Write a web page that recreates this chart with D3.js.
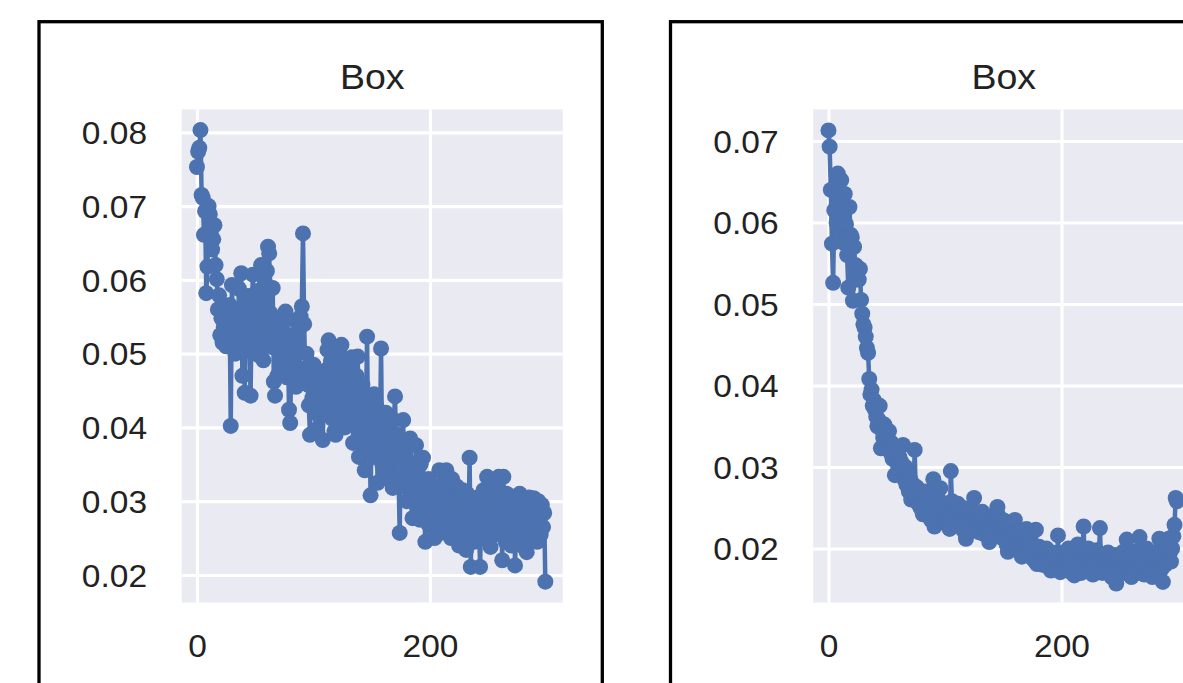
<!DOCTYPE html>
<html>
<head>
<meta charset="utf-8">
<script src="https://cdn.jsdelivr.net/npm/d3@7"></script>
<style>
  html, body { margin: 0; padding: 0; background: #ffffff; }
  svg { display: block; }
  text { font-family: "Liberation Sans", Arial, Helvetica, sans-serif; fill: #222222; }
</style>
</head>
<body>
<svg id="chart" width="1183" height="683"></svg>
<script>
// ---------------- DATA ----------------
const panelTitles = ["Box", "Box"];
const xTicks = [0, 200];
const yTicksLeft = [0.02, 0.03, 0.04, 0.05, 0.06, 0.07, 0.08];
const yTicksRight = [0.02, 0.03, 0.04, 0.05, 0.06, 0.07];

// left panel loss per epoch (epochs 0..299)
const lossLeft = [
  0.0753, 0.0774, 0.0779, 0.0803, 0.0715, 0.0711, 0.0661, 0.0693, 0.0582, 0.0618,
  0.0700, 0.0689, 0.0662, 0.0641, 0.0655, 0.0674, 0.0620, 0.0601, 0.0560, 0.0579,
  0.0525, 0.0548, 0.0515, 0.0536, 0.0556, 0.0510, 0.0542, 0.0528, 0.0566, 0.0402,
  0.0593, 0.0522, 0.0545, 0.0500, 0.0556, 0.0517, 0.0588, 0.0532, 0.0609, 0.0470,
  0.0540, 0.0447, 0.0563, 0.0505, 0.0578, 0.0520, 0.0443, 0.0550, 0.0607, 0.0512,
  0.0565, 0.0530, 0.0585, 0.0498, 0.0560, 0.0620, 0.0540, 0.0491, 0.0600, 0.0527,
  0.0612, 0.0645, 0.0636, 0.0555, 0.0509, 0.0589, 0.0462, 0.0443, 0.0530, 0.0470,
  0.0521, 0.0548, 0.0485, 0.0540, 0.0500, 0.0528, 0.0557, 0.0468, 0.0520, 0.0424,
  0.0406, 0.0490, 0.0525, 0.0470, 0.0545, 0.0455, 0.0508, 0.0530, 0.0480, 0.0550,
  0.0564, 0.0663, 0.0540, 0.0470, 0.0500, 0.0458, 0.0430, 0.0390, 0.0465, 0.0440,
  0.0485, 0.0425, 0.0460, 0.0398, 0.0445, 0.0415, 0.0470, 0.0430, 0.0383, 0.0450,
  0.0420, 0.0478, 0.0505, 0.0518, 0.0440, 0.0490, 0.0412, 0.0462, 0.0395, 0.0390,
  0.0435, 0.0475, 0.0410, 0.0498, 0.0512, 0.0430, 0.0465, 0.0400, 0.0450, 0.0420,
  0.0485, 0.0415, 0.0455, 0.0495, 0.0379, 0.0440, 0.0410, 0.0470, 0.0496, 0.0360,
  0.0430, 0.0395, 0.0458, 0.0380, 0.0342, 0.0420, 0.0523, 0.0370, 0.0410, 0.0308,
  0.0400, 0.0360, 0.0445, 0.0385, 0.0430, 0.0325, 0.0410, 0.0380, 0.0507, 0.0350,
  0.0395, 0.0340, 0.0420, 0.0370, 0.0400, 0.0330, 0.0385, 0.0355, 0.0318, 0.0410,
  0.0442, 0.0360, 0.0390, 0.0335, 0.0257, 0.0375, 0.0345, 0.0410, 0.0320, 0.0365,
  0.0300, 0.0355, 0.0330, 0.0385, 0.0310, 0.0277, 0.0340, 0.0300, 0.0376, 0.0290,
  0.0320, 0.0275, 0.0350, 0.0300, 0.0359, 0.0285, 0.0245, 0.0310, 0.0270, 0.0330,
  0.0290, 0.0315, 0.0265, 0.0300, 0.0250, 0.0285, 0.0320, 0.0275, 0.0342, 0.0257,
  0.0300, 0.0270, 0.0325, 0.0290, 0.0342, 0.0265, 0.0310, 0.0280, 0.0250, 0.0330,
  0.0275, 0.0305, 0.0260, 0.0320, 0.0285, 0.0240, 0.0300, 0.0270, 0.0315, 0.0255,
  0.0290, 0.0234, 0.0310, 0.0265, 0.0359, 0.0211, 0.0280, 0.0300, 0.0245, 0.0290,
  0.0260, 0.0305, 0.0270, 0.0211, 0.0285, 0.0250, 0.0315, 0.0275, 0.0295, 0.0333,
  0.0260, 0.0310, 0.0238, 0.0290, 0.0270, 0.0320, 0.0255, 0.0300, 0.0280, 0.0333,
  0.0265, 0.0305, 0.0220, 0.0333, 0.0275, 0.0245, 0.0310, 0.0290, 0.0260, 0.0300,
  0.0240, 0.0285, 0.0305, 0.0213, 0.0270, 0.0295, 0.0255, 0.0310, 0.0280, 0.0240,
  0.0300, 0.0265, 0.0290, 0.0231, 0.0275, 0.0305, 0.0250, 0.0295, 0.0270, 0.0304,
  0.0260, 0.0290, 0.0245, 0.0300, 0.0275, 0.0255, 0.0295, 0.0265, 0.0284, 0.0191
];

// right panel loss per epoch (epochs 0..299)
const lossRight = [
  0.0713, 0.0693, 0.0640, 0.0574, 0.0526, 0.0615, 0.0645, 0.0600, 0.0660, 0.0628,
  0.0590, 0.0652, 0.0610, 0.0575, 0.0635, 0.0598, 0.0560, 0.0520, 0.0619, 0.0585,
  0.0582, 0.0504, 0.0570, 0.0548, 0.0530, 0.0545, 0.0530, 0.0543, 0.0505, 0.0488,
  0.0475, 0.0471, 0.0460, 0.0446, 0.0440, 0.0408, 0.0389, 0.0395, 0.0375, 0.0382,
  0.0370, 0.0362, 0.0350, 0.0358, 0.0375, 0.0323, 0.0345, 0.0336, 0.0352, 0.0330,
  0.0340, 0.0325, 0.0344, 0.0318, 0.0330, 0.0310, 0.0322, 0.0290, 0.0315, 0.0305,
  0.0298, 0.0312, 0.0295, 0.0305, 0.0327, 0.0285, 0.0300, 0.0278, 0.0292, 0.0270,
  0.0286, 0.0260, 0.0280, 0.0268, 0.0321, 0.0262, 0.0275, 0.0255, 0.0270, 0.0250,
  0.0265, 0.0242, 0.0258, 0.0270, 0.0248, 0.0262, 0.0240, 0.0255, 0.0235, 0.0260,
  0.0285, 0.0227, 0.0250, 0.0240, 0.0262, 0.0245, 0.0274, 0.0238, 0.0252, 0.0232,
  0.0248, 0.0236, 0.0255, 0.0240, 0.0224, 0.0295, 0.0258, 0.0245, 0.0230, 0.0250,
  0.0238, 0.0255, 0.0228, 0.0245, 0.0235, 0.0250, 0.0222, 0.0240, 0.0212, 0.0236,
  0.0248, 0.0230, 0.0242, 0.0225, 0.0238, 0.0262, 0.0245, 0.0232, 0.0240, 0.0220,
  0.0236, 0.0228, 0.0245, 0.0218, 0.0232, 0.0225, 0.0240, 0.0215, 0.0208, 0.0230,
  0.0222, 0.0238, 0.0226, 0.0235, 0.0220, 0.0251, 0.0240, 0.0230, 0.0218, 0.0228,
  0.0212, 0.0234, 0.0222, 0.0205, 0.0196, 0.0225, 0.0215, 0.0228, 0.0210, 0.0220,
  0.0235, 0.0208, 0.0218, 0.0200, 0.0212, 0.0205, 0.0190, 0.0215, 0.0202, 0.0210,
  0.0224, 0.0198, 0.0208, 0.0192, 0.0205, 0.0188, 0.0200, 0.0185, 0.0223, 0.0181,
  0.0195, 0.0202, 0.0188, 0.0198, 0.0180, 0.0192, 0.0185, 0.0200, 0.0178, 0.0190,
  0.0182, 0.0173, 0.0195, 0.0185, 0.0178, 0.0190, 0.0180, 0.0216, 0.0175, 0.0171,
  0.0188, 0.0180, 0.0195, 0.0176, 0.0190, 0.0182, 0.0200, 0.0172, 0.0185, 0.0195,
  0.0178, 0.0167, 0.0190, 0.0182, 0.0205, 0.0175, 0.0188, 0.0170, 0.0198, 0.0227,
  0.0180, 0.0192, 0.0172, 0.0200, 0.0185, 0.0176, 0.0195, 0.0168, 0.0188, 0.0180,
  0.0198, 0.0175, 0.0190, 0.0225, 0.0182, 0.0170, 0.0192, 0.0178, 0.0186, 0.0172,
  0.0195, 0.0180, 0.0188, 0.0165, 0.0185, 0.0175, 0.0192, 0.0157, 0.0183, 0.0178,
  0.0190, 0.0170, 0.0185, 0.0196, 0.0175, 0.0188, 0.0211, 0.0180, 0.0168, 0.0190,
  0.0165, 0.0182, 0.0195, 0.0175, 0.0188, 0.0170, 0.0198, 0.0214, 0.0180, 0.0176,
  0.0190, 0.0168, 0.0185, 0.0200, 0.0175, 0.0192, 0.0172, 0.0188, 0.0165, 0.0182,
  0.0195, 0.0176, 0.0190, 0.0170, 0.0212, 0.0185, 0.0175, 0.0159, 0.0190, 0.0180,
  0.0200, 0.0185, 0.0212, 0.0195, 0.0184, 0.0200, 0.0215, 0.0229, 0.0262, 0.0258
];

// ---------------- LAYOUT ----------------
const svg = d3.select("#chart");
const COLOR = "#4C72B0";
const BG = "#EAEAF2";
const FONT = '"Liberation Sans", Arial, Helvetica, sans-serif';

const panels = [
  { title: panelTitles[0], data: lossLeft,  yTicks: yTicksLeft,  yDomain: [0.016273, 0.08309], dx: 0 },
  { title: panelTitles[1], data: lossRight, yTicks: yTicksRight, yDomain: [0.013374, 0.073865], dx: 631.5 }
];

const plot = { x0: 181.7, x1: 562.7, y0: 109.5, y1: 602.5 };
const xDomain = [-13.1, 313.9];

// widen glyphs slightly to match the reference lettering
function stretch(sel, k) {
  sel.each(function () {
    const w = this.getComputedTextLength();
    d3.select(this).attr("textLength", w * k).attr("lengthAdjust", "spacingAndGlyphs");
  });
}

panels.forEach(p => {
  const g = svg.append("g").attr("transform", `translate(${p.dx},0)`);

  // outer black frame (bottom runs off the image)
  g.append("rect")
    .attr("x", 39).attr("y", 21.7)
    .attr("width", 563.3).attr("height", 720)
    .attr("fill", "none").attr("stroke", "#000").attr("stroke-width", 3.3);

  const x = d3.scaleLinear().domain(xDomain).range([plot.x0, plot.x1]);
  const y = d3.scaleLinear().domain(p.yDomain).range([plot.y1, plot.y0]);
  const W = plot.x1 - plot.x0, H = plot.y1 - plot.y0;

  g.append("rect")
    .attr("x", plot.x0).attr("y", plot.y0)
    .attr("width", W).attr("height", H)
    .attr("fill", BG);

  // y axis + horizontal grid
  const ya = g.append("g").attr("transform", `translate(${plot.x0},0)`)
    .call(d3.axisLeft(y).tickValues(p.yTicks).tickFormat(d3.format(".2f"))
      .tickSize(-W).tickPadding(34.7));
  ya.select(".domain").remove();
  ya.selectAll(".tick line").attr("stroke", "#fff").attr("stroke-width", 3.2);
  ya.selectAll(".tick text").attr("font-size", 31).attr("dy", "0.36em")
    .attr("fill", "#222").style("font-family", FONT).call(stretch, 1.08);

  // x axis + vertical grid
  const xa = g.append("g").attr("transform", `translate(0,${plot.y1})`)
    .call(d3.axisBottom(x).tickValues(xTicks).tickFormat(d3.format("d"))
      .tickSize(-H).tickPadding(0));
  xa.select(".domain").remove();
  xa.selectAll(".tick line").attr("stroke", "#fff").attr("stroke-width", 3.2);
  xa.selectAll(".tick text").attr("font-size", 31).attr("y", 54.5).attr("dy", 0)
    .attr("fill", "#222").style("font-family", FONT).call(stretch, 1.08);

  // title
  g.append("text")
    .attr("x", (plot.x0 + plot.x1) / 2).attr("y", 89)
    .attr("text-anchor", "middle").attr("font-size", 35)
    .text(p.title).call(stretch, 1.07);

  // clip to plot area
  const clipId = "clip" + Math.round(p.dx);
  g.append("clipPath").attr("id", clipId)
    .append("rect").attr("x", plot.x0).attr("y", plot.y0).attr("width", W).attr("height", H);

  const series = p.data.map((v, i) => ({ e: i, v }));
  const line = d3.line().x(d => x(d.e)).y(d => y(d.v));

  const dg = g.append("g").attr("clip-path", `url(#${clipId})`);
  dg.append("path").datum(series)
    .attr("d", line).attr("fill", "none")
    .attr("stroke", COLOR).attr("stroke-width", 4.5).attr("stroke-linejoin", "round");
  dg.selectAll("circle").data(series).join("circle")
    .attr("cx", d => x(d.e)).attr("cy", d => y(d.v)).attr("r", 8)
    .attr("fill", COLOR);
});
</script>
</body>
</html>
